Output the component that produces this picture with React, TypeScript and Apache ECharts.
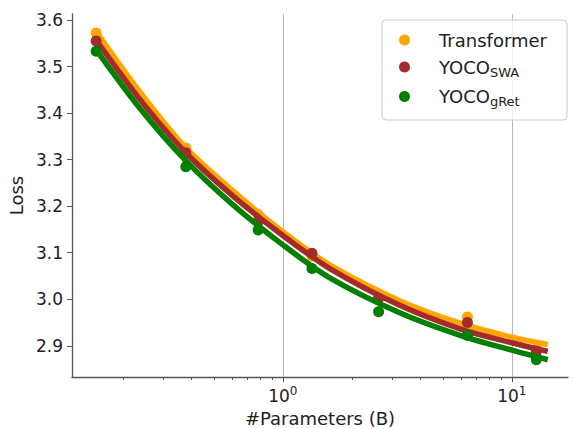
import React, { useEffect, useRef } from "react";
import * as echarts from "echarts";

const sizesB = [0.153, 0.377, 0.78, 1.34, 2.62, 6.4, 12.8];
const transformerLoss = [3.572, 3.325, 3.182, 3.093, 3.003, 2.962, 2.893];
const swaLoss = [3.555, 3.315, 3.167, 3.099, 3.002, 2.95, 2.888];
const gretLoss = [3.533, 3.285, 3.149, 3.066, 2.973, 2.922, 2.87];

const fitX = [0.153, 0.237, 0.373, 0.599, 1.0, 1.604, 3.24, 5.99, 10.1, 14.36];
const transformerFit = [3.575, 3.446, 3.328, 3.235, 3.145, 3.074, 2.997, 2.948, 2.918, 2.903];
const swaFit = [3.557, 3.43, 3.317, 3.224, 3.137, 3.066, 2.987, 2.936, 2.906, 2.888];
const gretFit = [3.536, 3.411, 3.3, 3.205, 3.117, 3.046, 2.971, 2.922, 2.89, 2.87];

const yTicks = [2.9, 3.0, 3.1, 3.2, 3.3, 3.4, 3.5, 3.6];
const xMajorTicks = [1, 10];
const xMinorTicks = [0.2, 0.3, 0.4, 0.5, 0.6, 0.7, 0.8, 0.9, 2, 3, 4, 5, 6, 7, 8, 9];

const names = ["Transformer", "YOCO_SWA", "YOCO_gRet"];
const colors = ["#FFA500", "#A52A2A", "#008000"];

const FONT = "DejaVu Sans";

export default function App() {
  const ref = useRef<HTMLDivElement>(null);
  useEffect(() => {
    document.body.style.margin = "0";
    const chart = echarts.init(ref.current!, null, { renderer: "svg" });
    const pair = (xs: number[], ys: number[]) => xs.map((x, i) => [x, ys[i]]);
    const lossSets = [transformerLoss, swaLoss, gretLoss];
    const fitSets = [transformerFit, swaFit, gretFit];
    const series: any[] = [];
    for (let i = 0; i < 3; i++) {
      const line: any = {
        type: "line",
        name: names[i] + " fit",
        data: pair(fitX, fitSets[i]),
        smooth: 0.3,
        showSymbol: false,
        symbol: "none",
        lineStyle: { color: colors[i], width: 5.5 },
        itemStyle: { color: colors[i] },
        z: 2 + i * 2,
      };
      if (i === 0) {
        line.markLine = {
          silent: true,
          symbol: "none",
          label: { show: false },
          lineStyle: { color: "#b8b8b8", width: 1, type: "solid" },
          data: xMajorTicks.map((v) => ({ xAxis: v })),
          z: 1,
        };
      }
      series.push(line);
      series.push({
        type: "scatter",
        name: names[i],
        data: pair(sizesB, lossSets[i]),
        symbolSize: 11,
        itemStyle: { color: colors[i], opacity: 1 },
        z: 3 + i * 2,
      });
    }
    chart.setOption({
      animation: false,
      textStyle: { fontFamily: FONT },
      grid: { left: 72, right: 5, top: 14, bottom: 52, containLabel: false, outerBoundsMode: "none" },
      legend: {
        data: names,
        orient: "vertical",
        left: 382,
        top: 20,
        width: 176,
        padding: [11, 20, 12, 17],
        itemWidth: 11,
        itemHeight: 11,
        itemGap: 9,
        icon: "circle",
        backgroundColor: "rgba(255,255,255,0.8)",
        borderColor: "#cccccc",
        borderWidth: 1,
        borderRadius: 4,
        formatter: (name: string) => {
          if (name === "Transformer") return "{t|Transformer}";
          const parts = name.split("_");
          return "{t|" + parts[0] + "}{s|" + parts[1] + "}";
        },
        textStyle: {
          fontFamily: FONT,
          color: "#222",
          rich: {
            t: { fontFamily: FONT, fontSize: 18, color: "#222", padding: [0, 0, 0, 24], lineHeight: 20 },
            s: { fontFamily: FONT, fontSize: 13, color: "#222", padding: [10, 0, 0, 0] },
          },
        },
      },
      xAxis: [
        {
          type: "log",
          logBase: 10,
          min: 0.12,
          max: 17.6,
          name: "#Parameters (B)",
          nameLocation: "middle",
          nameGap: 25,
          nameTextStyle: { fontFamily: FONT, fontSize: 18, color: "#222" },
          axisLine: { show: true, lineStyle: { color: "#555", width: 1.3 } },
          axisTick: { show: true, length: 5, lineStyle: { color: "#555" }, customValues: xMajorTicks },
          axisLabel: {
            customValues: xMajorTicks,
            margin: 8,
            formatter: (v: number) => "{b|10}{p|" + Math.round(Math.log10(v)) + "}",
            rich: {
              b: { fontFamily: FONT, fontSize: 17, color: "#222" },
              p: { fontFamily: FONT, fontSize: 12, color: "#222", padding: [0, 0, 10, 0] },
            },
          },
          splitLine: { show: false },
        },
        {
          type: "log",
          logBase: 10,
          min: 0.12,
          max: 17.6,
          position: "bottom",
          axisLine: { show: false },
          axisTick: { show: true, length: 3, lineStyle: { color: "#555" }, customValues: xMinorTicks },
          axisLabel: { show: false },
          splitLine: { show: false },
        },
      ],
      yAxis: {
        type: "value",
        min: 2.833,
        max: 3.613,
        name: "Loss",
        nameLocation: "middle",
        nameGap: 43,
        nameTextStyle: { fontFamily: FONT, fontSize: 18, color: "#222" },
        axisLine: { show: true, lineStyle: { color: "#555", width: 1.3 } },
        axisTick: { show: true, length: 5, lineStyle: { color: "#555" }, customValues: yTicks },
        axisLabel: {
          customValues: yTicks,
          margin: 9,
          fontFamily: FONT,
          fontSize: 17,
          color: "#222",
          formatter: (v: number) => v.toFixed(1),
        },
        splitLine: { show: false },
      },
      series,
    });
    return () => chart.dispose();
  }, []);
  return <div ref={ref} style={{ width: 573, height: 429 }} />;
}
